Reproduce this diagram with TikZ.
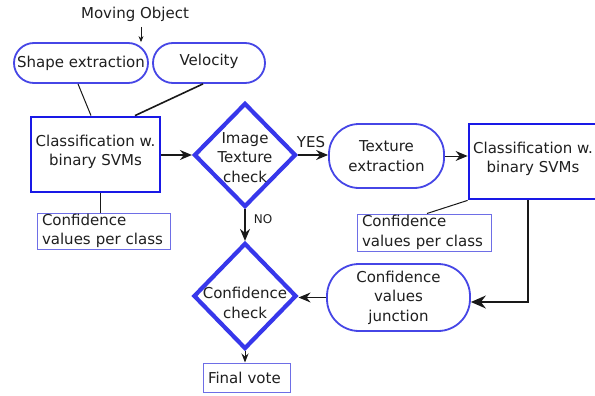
\documentclass[tikz,border=0pt]{standalone}
\usepackage{fontspec}
\setmainfont{DejaVu Sans}
\usetikzlibrary{shapes.geometric,arrows.meta,calc}
\definecolor{pillblue}{RGB}{70,70,230}
\definecolor{boxblue}{RGB}{25,25,230}
\definecolor{diablue}{RGB}{55,55,235}
\definecolor{confblue}{RGB}{110,110,230}
\definecolor{lineblack}{RGB}{25,25,25}
\begin{document}
\begin{tikzpicture}[x=1pt,y=-1pt,
  every node/.style={font=\fontsize{15}{19.5}\selectfont, text=black!88},
  pill/.style={draw=pillblue, line width=1.8pt, fill=white, align=center, inner sep=0pt},
  svmbox/.style={draw=boxblue, line width=2.8pt, fill=white, align=center, minimum width=129pt, minimum height=75pt, inner sep=0pt},
  decision/.style={diamond, draw=diablue, line width=4.2pt, fill=white, inner sep=0pt},
  confbox/.style={draw=confblue, line width=1pt, fill=white, align=left, inner xsep=5pt, inner ysep=0pt},
  conn/.style={draw=lineblack, line width=1.3pt},
  arr/.style={conn, -{Stealth[length=12pt,width=10pt,inset=4pt]}},
  lbl/.style={inner sep=0pt}
]
\useasboundingbox (0,0) rectangle (595,396);
\fill[white] (0,0) rectangle (595,396);

% nodes
\node[lbl] (mo) at (135,14) {Moving Object};
\node[pill, minimum width=134pt, minimum height=40pt, rounded corners=20pt] (se) at (81,63) {Shape extraction};
\node[pill, minimum width=112pt, minimum height=40pt, rounded corners=20pt] (vel) at (209,63) {Velocity\rule[-6pt]{0pt}{6pt}};
\node[svmbox] (c1) at (95.5,154.5) {Classification w.\\binary SVMs\rule[-8pt]{0pt}{8pt}};
\node[confbox, minimum width=133pt, minimum height=36pt, text width=123pt] (cf1) at (103.5,231) {Confidence\\values per class};
\node[decision, minimum width=102pt, minimum height=104pt] (d1) at (245,155) {};
\node[lbl, align=center] (d1t) at (245,157.5) {Image\\Texture\\check};
\node[lbl] (yes) at (311,142) {YES};
\node[pill, minimum width=115pt, minimum height=64pt, rounded corners=30pt] (tex) at (386.5,156) {Texture\\extraction};
\node[svmbox, minimum width=128pt] (c2) at (533,161.5) {Classification w.\\binary SVMs\rule[-8pt]{0pt}{8pt}};
\node[confbox, minimum width=134pt, minimum height=37pt, text width=124pt] (cf2) at (424,232.5) {Confidence\\values per class};
\node[pill, minimum width=143pt, minimum height=67pt, rounded corners=32pt] (jun) at (398.5,297.5) {Confidence\\values\\junction};
\node[decision, minimum width=103pt, minimum height=106pt] (d2) at (245,296) {};
\node[lbl, align=center] (d2t) at (245,303) {Confidence\\check};
\node[lbl, font=\fontsize{12}{14}\selectfont] (no) at (263,219) {NO};
\node[confbox, minimum width=87pt, minimum height=29pt, text width=77pt] (fv) at (246.5,377.5) {Final vote};

% connectors
\coordinate (moa) at (141,27);
\draw[conn, line width=0.8pt, -{Stealth[length=6pt,width=5pt,inset=2pt]}] (moa) -- (moa |- se.north);
\draw[conn, line width=1pt] ($(se.south)+(-3,0)$) -- ($(c1.north)+(-4.5,0)$);
\draw[conn, line width=1.6pt] ($(vel.south)+(-6,0)$) -- ($(c1.north)+(39.5,0)$);
\draw[conn, line width=1pt] ($(c1.south)+(4.5,0)$) -- ($(cf1.north)+(-3.5,0)$);
\draw[arr] (c1.east |- d1.west) -- (d1.west);
\draw[arr] (d1.east) -- (d1.east -| tex.west);
\draw[arr, line width=1pt] (tex.east) -- (tex.east -| c2.west);
\draw[conn, line width=1pt] (c2.south west) -- ($(cf2.north)+(3,0)$);
\draw[conn, line width=1.6pt, -{Stealth[length=15pt,width=13pt,inset=5pt]}] ($(c2.south)+(-5,0)$) |- ($(jun.east)+(0,4.5)$);
\draw[arr, line width=1pt] (jun.west) -- (jun.west -| d2.east);
\draw[arr] (d1.south) -- (d2.north);
\draw[conn, line width=1pt, -{Stealth[length=9pt,width=7pt,inset=3pt]}] (d2.south) -- (d2.south |- fv.north);
\end{tikzpicture}
\end{document}
